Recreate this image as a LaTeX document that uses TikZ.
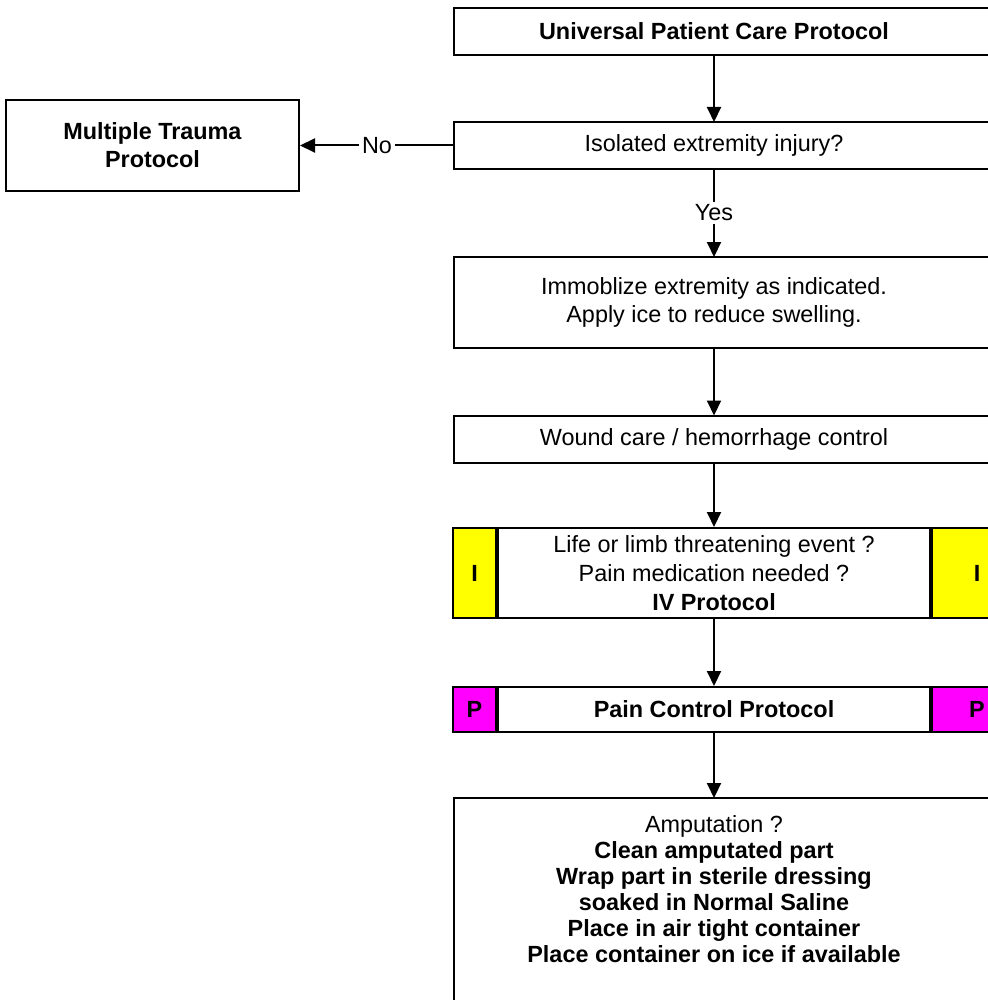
\documentclass[tikz,border=0pt]{standalone}
\usepackage{fontspec}
\setmainfont{Liberation Sans}
\usetikzlibrary{arrows.meta,positioning}
\definecolor{ivyellow}{RGB}{255,255,0}
\definecolor{painpink}{RGB}{255,0,255}

\begin{document}
\begin{tikzpicture}[x=0.5pt,y=-0.5pt,>={Triangle[length=7.5pt,width=7pt]},line width=1pt,
    box/.style={minimum width=259pt,minimum height=22.5pt,inner sep=0pt,align=center,
      font=\fontsize{11.7}{14}\selectfont},
    mid/.style={box,draw,minimum width=216pt},
    cell/.style={draw,minimum height=45pt,inner sep=0pt,font=\fontsize{11.7}{14}\selectfont\bfseries},
    lbl/.style={fill=white,inner sep=1.5pt,font=\fontsize{11.7}{14}\selectfont}]
  \useasboundingbox (0,0) rectangle (988,1000);
  \clip (0,0) rectangle (988,1000);

  \node[box] (upc) at (714,31.5) {\textbf{Universal Patient Care Protocol}};
  \node[box] (iso) at (714,145.5) {Isolated extremity injury?};
  \node[box,draw,minimum width=146.5pt,minimum height=45.5pt] (mtp) at (152.5,145.5)
    {\textbf{Multiple Trauma}\\\textbf{Protocol}};
  \node[box,minimum height=44.5pt] (immo) at (714,302.5)
    {Immoblize extremity as indicated.\\Apply ice to reduce swelling.};
  \node[box] (wound) at (714,439) {Wound care / hemorrhage control};
  \node[mid,minimum height=45pt,font=\fontsize{11.7}{14.5}\selectfont] (iv) at (714,573)
    {Life or limb threatening event ?\\Pain medication needed ?\\\textbf{IV Protocol}};
  \node[cell,fill=ivyellow,minimum width=21.5pt,left=0pt of iv] (ivl) {I};
  \node[cell,fill=ivyellow,minimum width=45pt,right=0pt of iv] (ivr) {I};
  \node[mid] (pcp) at (714,709.5) {\textbf{Pain Control Protocol}};
  \node[cell,fill=painpink,minimum width=21.5pt,minimum height=22.5pt,left=0pt of pcp] (pcl) {P};
  \node[cell,fill=painpink,minimum width=45pt,minimum height=22.5pt,right=0pt of pcp] (pcr) {P};
  \node[box,minimum height=90pt,font=\fontsize{11.7}{13}\selectfont] (amp) at (714,889)
    {Amputation ?\\\textbf{Clean amputated part}\\\textbf{Wrap part in sterile dressing}\\
     \textbf{soaked in Normal Saline}\\\textbf{Place in air tight container}\\
     \textbf{Place container on ice if available}};

  % frames run off the right edge
  \foreach \n in {upc,iso,immo,wound}
    \draw (\n.north west) rectangle ([xshift=30pt]\n.south east);
  \draw (amp.north west) rectangle ([xshift=30pt,yshift=-30pt]amp.south east);

  \path[->] (upc) edge (iso);
  \path[->] (iso) edge node[lbl] {No} (mtp);
  \path[->] (iso) edge node[lbl] {Yes} (immo);
  \path[->] (immo) edge (wound);
  \path[->] (wound) edge (iv);
  \path[->] (iv) edge (pcp);
  \path[->] (pcp) edge (amp);
\end{tikzpicture}
\end{document}
